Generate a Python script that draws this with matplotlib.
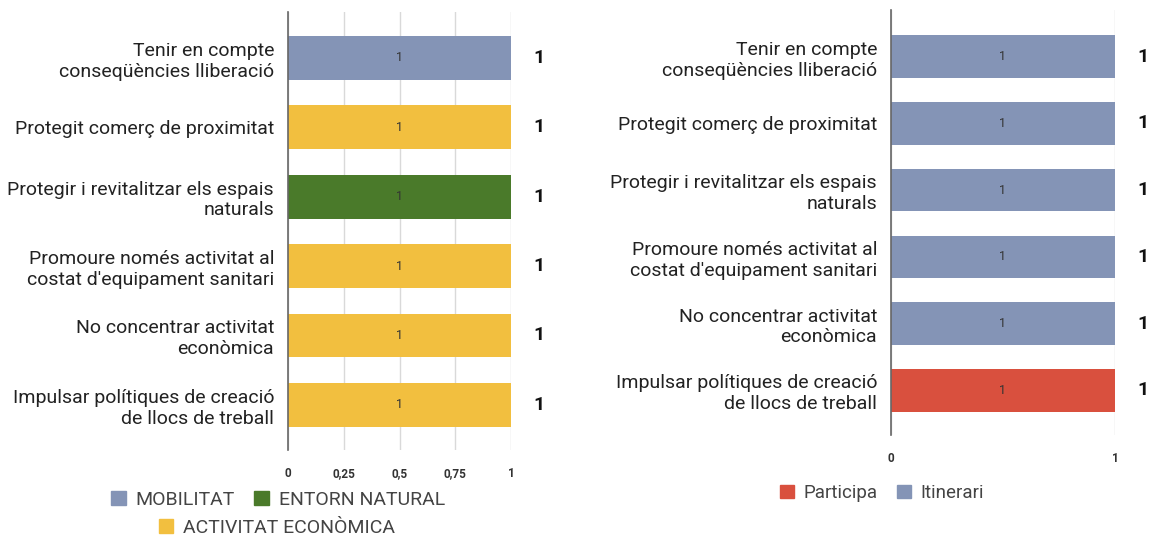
import matplotlib
matplotlib.use("Agg")
import matplotlib.pyplot as plt
from matplotlib.patches import Patch

plt.rcParams['font.family'] = ['Roboto', 'DejaVu Sans']

categories = [
    "Tenir en compte\nconseqüències lliberació",
    "Protegit comerç de proximitat",
    "Protegir i revitalitzar els espais\nnaturals",
    "Promoure només activitat al\ncostat d'equipament sanitari",
    "No concentrar activitat\neconòmica",
    "Impulsar polítiques de creació\nde llocs de treball",
]
values_left = [1, 1, 1, 1, 1, 1]
values_right = [1, 1, 1, 1, 1, 1]
groups_left = ["MOBILITAT", "ACTIVITAT ECONÒMICA", "ENTORN NATURAL",
               "ACTIVITAT ECONÒMICA", "ACTIVITAT ECONÒMICA", "ACTIVITAT ECONÒMICA"]
groups_right = ["Itinerari", "Itinerari", "Itinerari", "Itinerari", "Itinerari", "Participa"]
ticks_left = [0, 0.25, 0.5, 0.75, 1]
ticklabels_left = ["0", "0,25", "0,5", "0,75", "1"]
ticks_right = [0, 1]
ticklabels_right = ["0", "1"]

colors_left = {"MOBILITAT": "#8494b6", "ENTORN NATURAL": "#4a7a2a",
               "ACTIVITAT ECONÒMICA": "#f2bf3f"}
colors_right = {"Participa": "#d9503e", "Itinerari": "#8494b6"}

fig = plt.figure(figsize=(11.5, 5.36), dpi=100)

def draw(ax, vals, groups, cmap, ticks, ticklabels, ylim_top, ylim_bot, height):
    y = list(range(len(categories)))
    ax.barh(y, vals, height=height, color=[cmap[g] for g in groups], zorder=2)
    ax.set_ylim(ylim_bot, ylim_top)
    ax.set_xlim(0, 1)
    ax.set_yticks(y)
    ax.set_yticklabels(categories, fontsize=14, color="#222222", linespacing=1.2)
    ax.set_xticks(ticks)
    ax.set_xticklabels(ticklabels, fontsize=8.5, fontweight="bold", color="#333333")
    ax.tick_params(axis="both", length=0)
    ax.tick_params(axis="y", pad=10)
    ax.tick_params(axis="x", pad=12)
    for s in ["top", "right", "bottom"]:
        ax.spines[s].set_visible(False)
    ax.spines["left"].set_color("#666666")
    ax.spines["left"].set_linewidth(1.2)
    ax.spines["left"].set_zorder(3)
    ax.grid(axis="x", color="#d9d9d9", linewidth=1, zorder=0)
    ax.set_axisbelow(True)
    for yi, v in zip(y, vals):
        ax.text(v / 2, yi, str(v), ha="center", va="center", fontsize=9, color="#333333", zorder=4)
        ax.annotate(str(v), xy=(v, yi), xytext=(16, 0), textcoords="offset points",
                    ha="left", va="center", fontsize=14, fontweight="bold", color="#111111",
                    annotation_clip=False)

ax1 = fig.add_axes([288 / 1150, 1 - 450 / 536, (511 - 288) / 1150, (450 - 12) / 536])
draw(ax1, values_left, groups_left, colors_left, ticks_left, ticklabels_left, -0.66, 5.65, 0.63)

ax2 = fig.add_axes([891 / 1150, 1 - 435 / 536, (1115 - 891) / 1150, (435 - 10) / 536])
draw(ax2, values_right, groups_right, colors_right, ticks_right, ticklabels_right, -0.70, 5.67, 0.64)

leg_kw = dict(frameon=False, handlelength=0.75, handleheight=0.75,
              handletextpad=0.5, columnspacing=1.0, labelcolor="#444444")
h1 = [Patch(color=colors_left["MOBILITAT"]), Patch(color=colors_left["ENTORN NATURAL"])]
fig.legend(h1, ["MOBILITAT", "ENTORN NATURAL"], loc="center", ncol=2, fontsize=14,
           bbox_to_anchor=(278 / 1150, 1 - 500 / 536), **leg_kw)
h2 = [Patch(color=colors_left["ACTIVITAT ECONÒMICA"])]
fig.legend(h2, ["ACTIVITAT ECONÒMICA"], loc="center", ncol=1, fontsize=14,
           bbox_to_anchor=(277 / 1150, 1 - 528 / 536), **leg_kw)
h3 = [Patch(color=colors_right["Participa"]), Patch(color=colors_right["Itinerari"])]
fig.legend(h3, ["Participa", "Itinerari"], loc="center", ncol=2, fontsize=13.5,
           bbox_to_anchor=(882 / 1150, 1 - 493 / 536), **leg_kw)

fig.savefig("out.png", dpi=100, facecolor="white")
